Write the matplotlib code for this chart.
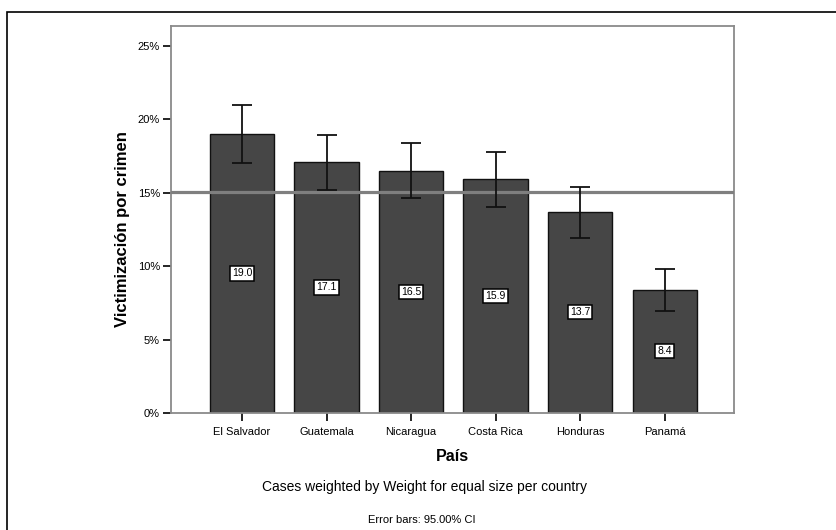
import numpy as np
import matplotlib
matplotlib.use("Agg")
import matplotlib.pyplot as plt
from matplotlib.patches import Rectangle
from matplotlib.ticker import FuncFormatter

plt.rcParams['font.family'] = ['Liberation Sans', 'DejaVu Sans']

# data
paises = ['El Salvador', 'Guatemala', 'Nicaragua', 'Costa Rica', 'Honduras', 'Panamá']
victim = [19.0, 17.1, 16.5, 15.9, 13.7, 8.4]
ci_low = [17.0, 15.15, 14.63, 14.05, 11.9, 6.95]
ci_high = [21.0, 18.95, 18.4, 17.8, 15.42, 9.8]
promedio = 15.08

fig = plt.figure(figsize=(8.36, 5.30), dpi=100)
ax = fig.add_axes([171/836, 1-413/530, (734-171)/836, (413-26)/530])

x = np.arange(len(paises))
ax.bar(x, victim, width=0.76, color='#464646', edgecolor='#111111', linewidth=1.0, zorder=2)

err = [np.array(victim) - np.array(ci_low), np.array(ci_high) - np.array(victim)]
ax.errorbar(x, victim, yerr=err, fmt='none', ecolor='#111111', elinewidth=1.3,
            capsize=7.5, capthick=1.3, zorder=4)

ax.axhline(promedio, color='#7f7f7f', lw=2.3, zorder=3)

for xi, v in zip(x, victim):
    ax.text(xi, v/2, f'{v:.1f}', ha='center', va='center', fontsize=7.5, zorder=5,
            bbox=dict(boxstyle='square,pad=0.2', fc='white', ec='black', lw=1.1))

ax.set_xlim(-0.84, 5.82)
ax.set_ylim(0, 26.35)
ax.set_yticks([0, 5, 10, 15, 20, 25])
ax.yaxis.set_major_formatter(FuncFormatter(lambda v, p: f'{v:.0f}%'))
ax.set_xticks(x)
ax.set_xticklabels(paises)
ax.tick_params(axis='both', labelsize=8, color='black', width=1.2, length=6)
ax.tick_params(axis='x', pad=4)
ax.tick_params(axis='y', pad=2)

for s in ax.spines.values():
    s.set_color('#8a8a8a')
    s.set_linewidth(1.3)

ax.set_ylabel('Victimización por crimen', fontsize=12, fontweight='bold')
ax.yaxis.set_label_coords(-0.073, 0.475)
ax.set_xlabel('País', fontsize=11.5, fontweight='bold', labelpad=9)

fig.text(425/836, 1-487/530, 'Cases weighted by Weight for equal size per country',
         ha='center', va='center', fontsize=10)
fig.text(422/836, 1-520/530, 'Error bars: 95.00% CI', ha='center', va='center', fontsize=8)

# outer frame around the whole chart
fig.patches.append(Rectangle((6.5/836, -0.05), 1.0, 1-12/530+0.05, transform=fig.transFigure,
                             fill=False, ec='black', lw=1.2))

fig.savefig('out.png', dpi=100)
